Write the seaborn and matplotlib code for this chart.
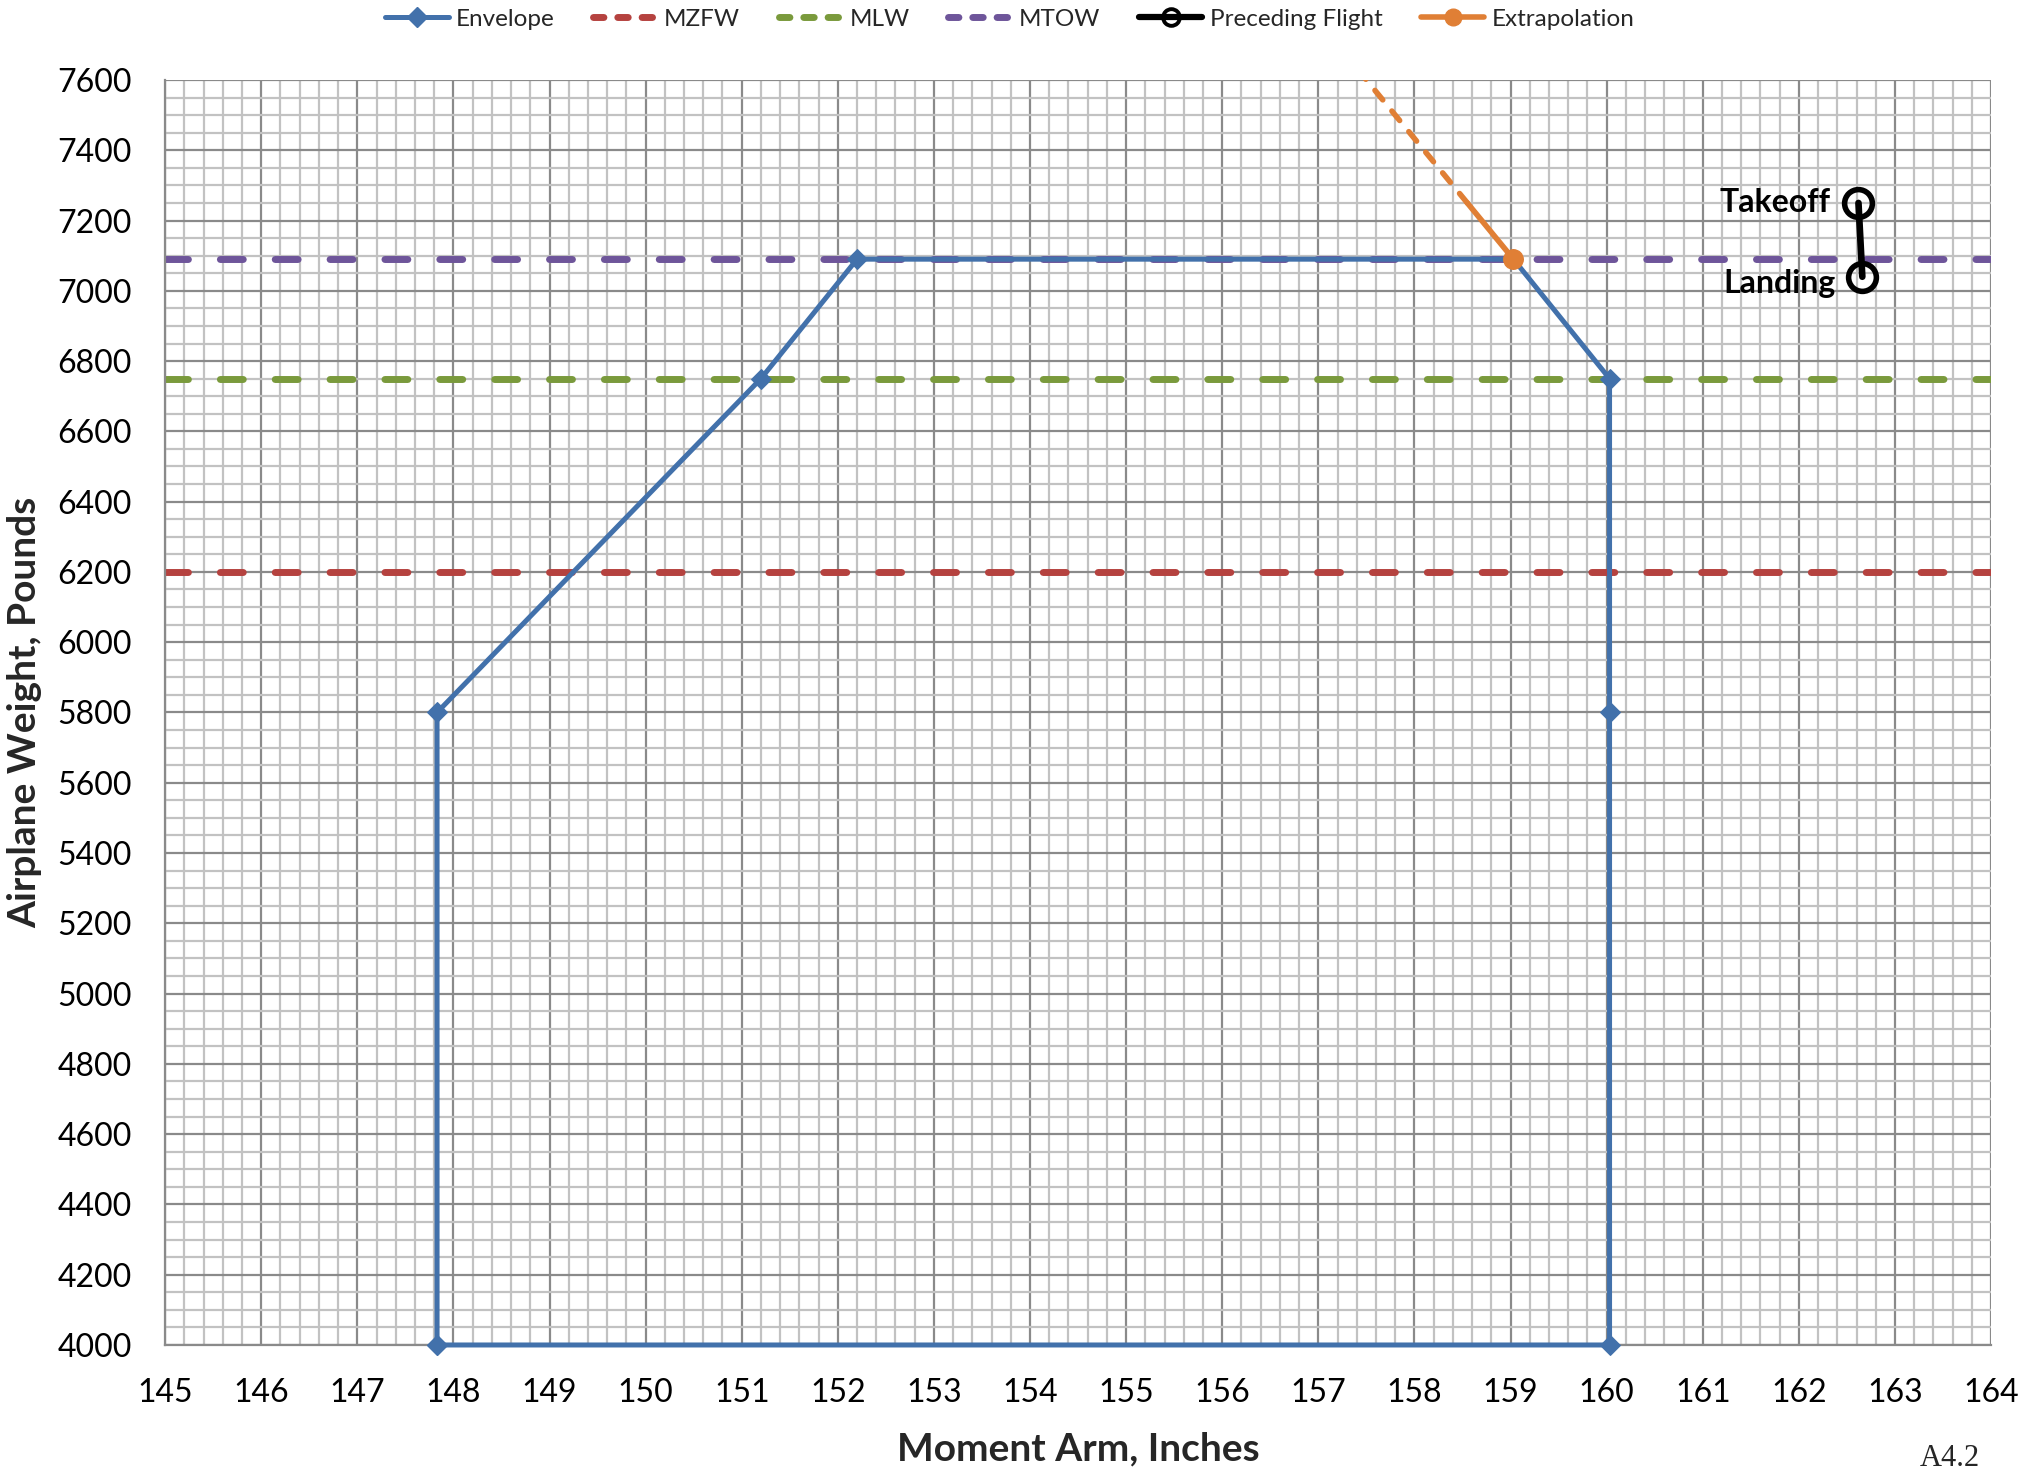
import matplotlib
matplotlib.use("Agg")
import matplotlib.pyplot as plt
from matplotlib.lines import Line2D
from matplotlib.ticker import MultipleLocator
import seaborn as sns
import pandas as pd

# ---- data -------------------------------------------------------------
env_arm = [147.83, 147.83, 151.2, 152.2, 159.03, 160.03, 160.03, 160.03, 147.83]
env_weight = [4000, 5800, 6750, 7090, 7090, 6750, 5800, 4000, 4000]

limit_arm = [145, 164]
mzfw = [6200, 6200]
mlw = [6750, 6750]
mtow = [7090, 7090]

flight_arm = [162.62, 162.66]
flight_weight = [7250, 7040]
flight_labels = ["Takeoff", "Landing"]

extrap_arm = [159.03, 158.55]
extrap_weight = [7090, 7250]
extrap_ext_arm = [158.55, 157.2]
extrap_ext_weight = [7250, 7700]

x_ticks = list(range(145, 165))
y_ticks = list(range(4000, 7601, 200))

# ---- style -------------------------------------------------------------
sns.set_theme(style="white")
plt.rcParams["font.family"] = ["Lato", "DejaVu Sans"]

BLUE = "#4271AB"
RED = "#B5423F"
GREEN = "#7A9A3C"
PURPLE = "#6E559A"
ORANGE = "#E07F35"
MAJOR = "#8A8A8A"
MINOR = "#C2C2C2"

fig = plt.figure(figsize=(20.28, 14.78), dpi=100)
ax = fig.add_axes([0.0814, 0.0900, 0.9004, 0.8559])

# grid
ax.set_axisbelow(True)
ax.xaxis.set_minor_locator(MultipleLocator(0.2))
ax.yaxis.set_minor_locator(MultipleLocator(50))
ax.grid(which="minor", color=MINOR, lw=1.6)
ax.grid(which="major", color=MAJOR, lw=1.6)

dash_kw = dict(lw=5, linestyle=(0, (3.3, 4.6)), dash_capstyle="round")

# weight limits
sns.lineplot(x=limit_arm, y=mzfw, color=RED, ax=ax, **dash_kw)
sns.lineplot(x=limit_arm, y=mlw, color=GREEN, ax=ax, **dash_kw)
sns.lineplot(x=limit_arm, y=mtow, color=PURPLE, ax=ax, **dash_kw)

# envelope
env = pd.DataFrame({"arm": env_arm, "weight": env_weight})
sns.lineplot(data=env, x="arm", y="weight", sort=False, estimator=None,
             color=BLUE, lw=3.6, marker="D", markersize=10,
             markeredgecolor=BLUE, clip_on=False, zorder=4, ax=ax)

# extrapolation
sns.lineplot(x=extrap_ext_arm, y=extrap_weight[-1:] + extrap_ext_weight[1:],
             sort=False, estimator=None, color=ORANGE, lw=4,
             linestyle=(0, (2.2, 2.6)), dash_capstyle="round", ax=ax)
sns.lineplot(x=extrap_arm, y=extrap_weight, sort=False, estimator=None,
             color=ORANGE, lw=4, solid_capstyle="round", ax=ax)
ax.plot(extrap_arm[:1], extrap_weight[:1], "o", color=ORANGE, ms=14, zorder=5)

# preceding flight
sns.lineplot(x=flight_arm, y=flight_weight, sort=False, estimator=None,
             color="black", lw=4.8, marker="o", markersize=20,
             markerfacecolor="none", markeredgecolor="black",
             markeredgewidth=4, ax=ax)
for xa, yw, lab in zip(flight_arm, flight_weight, flight_labels):
    dy = 0 if lab == "Takeoff" else -20
    dx = 0.29 if lab == "Takeoff" else 0.28
    ax.text(xa - dx, yw + dy, lab, ha="right", va="center",
            fontsize=23, fontweight="bold", color="black")

# axes
ax.set_xlim(145, 164)
ax.set_ylim(4000, 7600)
ax.set_xticks(x_ticks)
ax.set_yticks(y_ticks)
ax.set_xticklabels([str(v) for v in x_ticks])
ax.set_yticklabels([str(v) for v in y_ticks])
ax.tick_params(axis="both", which="major", direction="out", length=8,
               width=1.6, color=MAJOR, labelsize=23, labelcolor="black")
ax.tick_params(axis="x", pad=16)
ax.tick_params(axis="y", pad=16)
ax.tick_params(which="minor", length=0)
for side in ("top", "right"):
    ax.spines[side].set_visible(False)
for side in ("left", "bottom"):
    ax.spines[side].set_color(MAJOR)
    ax.spines[side].set_linewidth(1.6)

ax.set_xlabel("Moment Arm, Inches", fontsize=28, fontweight="bold")
ax.set_ylabel("Airplane Weight, Pounds", fontsize=28, fontweight="bold")
ax.xaxis.set_label_coords(0.5, -0.082)
ax.yaxis.set_label_coords(-0.0767, 0.5)
ax.xaxis.label.set_va("center")
ax.yaxis.label.set_va("center")

# legend
handles = [
    Line2D([], [], color=BLUE, lw=3.6, marker="D", ms=10),
    Line2D([], [], color=RED, lw=5, linestyle=(0, (1.5, 2.0)), dash_capstyle="round"),
    Line2D([], [], color=GREEN, lw=5, linestyle=(0, (1.5, 2.0)), dash_capstyle="round"),
    Line2D([], [], color=PURPLE, lw=5, linestyle=(0, (1.5, 2.0)), dash_capstyle="round"),
    Line2D([], [], color="black", lw=4.5, marker="o", ms=12,
           markerfacecolor="none", markeredgewidth=2.8),
    Line2D([], [], color=ORANGE, lw=4, marker="o", ms=12),
]
labels = ["Envelope", "MZFW", "MLW", "MTOW", "Preceding Flight", "Extrapolation"]
fig.legend(handles, labels, loc="center", bbox_to_anchor=(0.498, 0.987),
           ncol=6, frameon=False, fontsize=17.5, handlelength=2.6,
           handletextpad=0.3, columnspacing=1.6)

fig.text(1950 / 2028, 1 - 1459 / 1478, "A4.2", ha="center", va="center",
         fontsize=22, family=["Liberation Serif", "DejaVu Serif"])

fig.savefig("out.png", dpi=100)
